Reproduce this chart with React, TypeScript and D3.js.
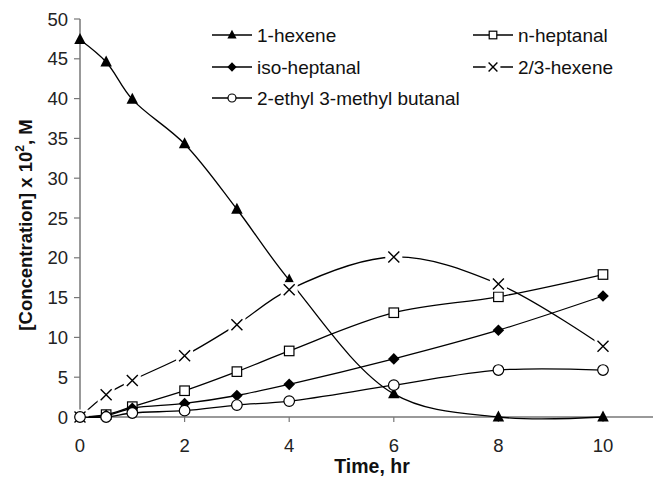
import React from "react";
import * as d3 from "d3";

const times = [0, 0.5, 1, 2, 3, 4, 6, 8, 10];
const hexene1 = [47.4, 44.6, 39.9, 34.3, 26.1, 17.2, 2.9, 0.0, 0.0];
const nHeptanal = [0.0, 0.3, 1.3, 3.3, 5.7, 8.3, 13.1, 15.1, 17.9];
const isoHeptanal = [0.0, 0.2, 1.1, 1.7, 2.7, 4.1, 7.3, 10.9, 15.2];
const hexene23 = [0.0, 2.8, 4.6, 7.7, 11.6, 16.0, 20.1, 16.7, 8.9];
const butanal = [0.0, 0.0, 0.5, 0.8, 1.5, 2.0, 4.0, 5.9, 5.9];

const xTicks = [0, 2, 4, 6, 8, 10];
const yTicks = [0, 5, 10, 15, 20, 25, 30, 35, 40, 45, 50];

type Marker = "triangle" | "square" | "diamond" | "cross" | "circle";
const seriesList: { name: string; values: number[]; marker: Marker }[] = [
  { name: "1-hexene", values: hexene1, marker: "triangle" },
  { name: "n-heptanal", values: nHeptanal, marker: "square" },
  { name: "iso-heptanal", values: isoHeptanal, marker: "diamond" },
  { name: "2/3-hexene", values: hexene23, marker: "cross" },
  { name: "2-ethyl 3-methyl butanal", values: butanal, marker: "circle" },
];

const FONT = "'Liberation Sans', Arial, sans-serif";

function MarkerShape({ type, x, y, small }: { type: Marker; x: number; y: number; small?: boolean }) {
  const s = small ? 0.8 : 1;
  if (type === "triangle") {
    const h = 11 * s, w = 11.5 * s;
    return <path d={`M${x},${y - h * 0.6} L${x + w / 2},${y + h * 0.4} L${x - w / 2},${y + h * 0.4} Z`} fill="#000" />;
  }
  if (type === "square") {
    const a = 9.5 * s;
    return <rect x={x - a / 2} y={y - a / 2} width={a} height={a} fill="#fff" stroke="#000" strokeWidth={1.2} />;
  }
  if (type === "diamond") {
    const r = 5.8 * s;
    return <path d={`M${x},${y - r} L${x + r},${y} L${x},${y + r} L${x - r},${y} Z`} fill="#000" />;
  }
  if (type === "circle") {
    return <circle cx={x} cy={y} r={small ? 4 : 5.3} fill="#fff" stroke="#000" strokeWidth={1.2} />;
  }
  const r = 5.5 * s;
  return (
    <g>
      <rect x={x - r - 3} y={y - r - 2} width={2 * r + 6} height={2 * r + 4} fill="#fff" />
      <path d={`M${x - r},${y - r} L${x + r},${y + r} M${x + r},${y - r} L${x - r},${y + r}`} stroke="#000" strokeWidth={1.4} />
    </g>
  );
}

export default function App() {
  const W = 653, H = 479;
  const x = d3.scaleLinear().domain([0, 10]).range([80, 603]);
  const y = d3.scaleLinear().domain([0, 50]).range([417, 19]);
  const line = d3
    .line<number>()
    .x((_, i) => x(times[i]))
    .y((v) => y(v))
    .curve(d3.curveCatmullRom.alpha(0.5));

  const legend = [
    { s: seriesList[0], lx: 212, ly: 35 },
    { s: seriesList[1], lx: 473, ly: 35 },
    { s: seriesList[2], lx: 212, ly: 67 },
    { s: seriesList[3], lx: 473, ly: 67 },
    { s: seriesList[4], lx: 212, ly: 98 },
  ];

  return (
    <svg width={W} height={H} style={{ position: "absolute", left: 0, top: 0, background: "#fff" }}>
      <rect width={W} height={H} fill="#fff" />
      {/* axes */}
      <line x1={x(0)} x2={x(0)} y1={y(50)} y2={y(0)} stroke="#777" strokeWidth={1.5} />
      <line x1={x(0)} x2={W} y1={y(0)} y2={y(0)} stroke="#777" strokeWidth={1.5} />
      {yTicks.map((t) => (
        <g key={"y" + t}>
          <line x1={x(0) - 6} x2={x(0)} y1={y(t)} y2={y(t)} stroke="#777" strokeWidth={1.2} />
          <text x={68} y={y(t)} dy="0.36em" textAnchor="end" fontFamily={FONT} fontSize={18.5} fill="#222">
            {t}
          </text>
        </g>
      ))}
      {xTicks.map((t) => (
        <g key={"x" + t}>
          <line x1={x(t)} x2={x(t)} y1={y(0)} y2={y(0) + 5} stroke="#777" strokeWidth={1.2} />
          <text x={x(t)} y={452} textAnchor="middle" fontFamily={FONT} fontSize={18.5} fill="#222">
            {t}
          </text>
        </g>
      ))}
      <text x={372} y={473} textAnchor="middle" fontFamily={FONT} fontSize={19.5} fontWeight="bold" fill="#111">
        Time, hr
      </text>
      <text
        transform={`translate(32,225) rotate(-90)`}
        textAnchor="middle"
        fontFamily={FONT}
        fontSize={18.5}
        fontWeight="bold"
        fill="#111"
      >
        [Concentration] x 10
        <tspan dy={-8} fontSize={12}>2</tspan>
        <tspan dy={8}>, M</tspan>
      </text>
      {/* series */}
      {seriesList.map((s) => (
        <g key={s.name}>
          <path d={line(s.values) || ""} fill="none" stroke="#000" strokeWidth={1.3} />
          {s.values.map((v, i) => (
            <MarkerShape key={i} type={s.marker} x={x(times[i])} y={y(v)} />
          ))}
        </g>
      ))}
      {/* legend */}
      {legend.map(({ s, lx, ly }) => (
        <g key={"l" + s.name}>
          <line x1={lx} x2={lx + 40} y1={ly} y2={ly} stroke="#000" strokeWidth={1.3} />
          <MarkerShape type={s.marker} x={lx + 20} y={ly} small />
          <text x={lx + 45} y={ly} dy="0.36em" fontFamily={FONT} fontSize={19} fill="#111">
            {s.name}
          </text>
        </g>
      ))}
    </svg>
  );
}
